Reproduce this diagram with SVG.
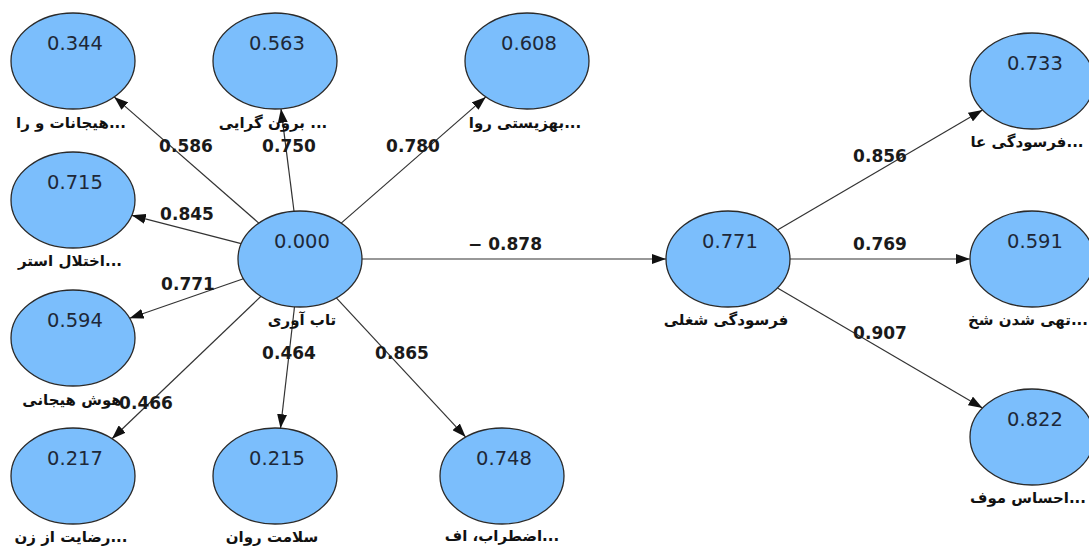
<svg xmlns="http://www.w3.org/2000/svg" width="1089" height="548" viewBox="0 0 1089 548">
<defs>
<marker id="ah" viewBox="0 0 14 10" refX="14" refY="5" markerWidth="14" markerHeight="10" markerUnits="userSpaceOnUse" orient="auto">
<path d="M0,0 L14,5 L0,10 Z" fill="#111"/>
</marker>
<style>
.n ellipse{fill:#7bbefc;stroke:#2a2a2a;stroke-width:1.3}
.v{font-family:"DejaVu Sans",sans-serif;font-size:19.5px;fill:#1e2838;text-anchor:middle}
.l{font-family:"DejaVu Sans",sans-serif;font-size:15px;font-weight:bold;fill:#111;text-anchor:middle}
.c{font-family:"DejaVu Sans",sans-serif;font-size:17px;font-weight:bold;fill:#1a1a1a;text-anchor:middle}
#edges line{stroke:#333;stroke-width:1.2;marker-end:url(#ah)}
</style>
</defs>
<rect width="1089" height="548" fill="#fff"/>
<g id="edges">
<line x1="258.8" y1="223.1" x2="114.2" y2="96.9"/>
<line x1="294" y1="211.2" x2="281" y2="108.8"/>
<line x1="341.2" y1="223.1" x2="485.8" y2="96.9"/>
<line x1="241.2" y1="243.7" x2="131.8" y2="215.3"/>
<line x1="243.4" y1="278.7" x2="129.6" y2="318.3"/>
<line x1="261" y1="296.3" x2="112" y2="438.7"/>
<line x1="294.5" y1="306.8" x2="280.5" y2="428.2"/>
<line x1="336.3" y1="297.9" x2="465.7" y2="437.1"/>
<line x1="362" y1="259" x2="666" y2="259"/>
<line x1="777.5" y1="230" x2="982.5" y2="110"/>
<line x1="790" y1="259" x2="970" y2="259"/>
<line x1="777.5" y1="288" x2="982.5" y2="408"/>
</g>
<g id="n1" class="n"><ellipse cx="73" cy="61" rx="62" ry="48"/><text class="v" x="75" y="50">0.344</text><text class="l" x="71" y="128">هیجانات و را...</text></g>
<g id="n2" class="n"><ellipse cx="275" cy="61" rx="62" ry="48"/><text class="v" x="277" y="50">0.563</text><text class="l" x="273" y="128">برون گرایی ...</text></g>
<g id="n3" class="n"><ellipse cx="527" cy="61" rx="62" ry="48"/><text class="v" x="529" y="50">0.608</text><text class="l" x="525" y="128">بهزیستی روا...</text></g>
<g id="n4" class="n"><ellipse cx="73" cy="200" rx="62" ry="48"/><text class="v" x="75" y="189">0.715</text><text class="l" x="70" y="266">اختلال استر...</text></g>
<g id="n5" class="n"><ellipse cx="73" cy="338" rx="62" ry="48"/><text class="v" x="75" y="327">0.594</text><text class="l" x="72" y="405">هوش هیجانی</text></g>
<g id="n6" class="n"><ellipse cx="73" cy="476" rx="62" ry="48"/><text class="v" x="75" y="465">0.217</text><text class="l" x="71" y="542">رضایت از زن...</text></g>
<g id="n7" class="n"><ellipse cx="275" cy="476" rx="62" ry="48"/><text class="v" x="277" y="465">0.215</text><text class="l" x="272" y="542">سلامت روان</text></g>
<g id="n8" class="n"><ellipse cx="502" cy="476" rx="62" ry="48"/><text class="v" x="504" y="465">0.748</text><text class="l" x="502" y="541">اضطراب، اف...</text></g>
<g id="n9" class="n"><ellipse cx="300" cy="259" rx="62" ry="48"/><text class="v" x="302" y="248">0.000</text><text class="l" x="302" y="325">تاب آوری</text></g>
<g id="n10" class="n"><ellipse cx="728" cy="259" rx="62" ry="48"/><text class="v" x="730" y="248">0.771</text><text class="l" x="726" y="325">فرسودگی شغلی</text></g>
<g id="n11" class="n"><ellipse cx="1032" cy="81" rx="62" ry="48"/><text class="v" x="1035" y="70">0.733</text><text class="l" x="1027" y="147">فرسودگی عا...</text></g>
<g id="n12" class="n"><ellipse cx="1032" cy="259" rx="62" ry="48"/><text class="v" x="1035" y="248">0.591</text><text class="l" x="1028" y="325">تهی شدن شخ...</text></g>
<g id="n13" class="n"><ellipse cx="1032" cy="437" rx="62" ry="48"/><text class="v" x="1035" y="426">0.822</text><text class="l" x="1028" y="503">احساس موف...</text></g>
<g id="edge-labels">
<text class="c" x="186" y="152">0.586</text>
<text class="c" x="289" y="152">0.750</text>
<text class="c" x="413" y="152">0.780</text>
<text class="c" x="187" y="220">0.845</text>
<text class="c" x="188" y="290">0.771</text>
<text class="c" x="289" y="359">0.464</text>
<text class="c" x="402" y="359">0.865</text>
<text class="c" x="146" y="409">0.466</text>
<text class="c" x="505" y="250">− 0.878</text>
<text class="c" x="880" y="162">0.856</text>
<text class="c" x="880" y="250">0.769</text>
<text class="c" x="880" y="339">0.907</text>
</g>
</svg>
